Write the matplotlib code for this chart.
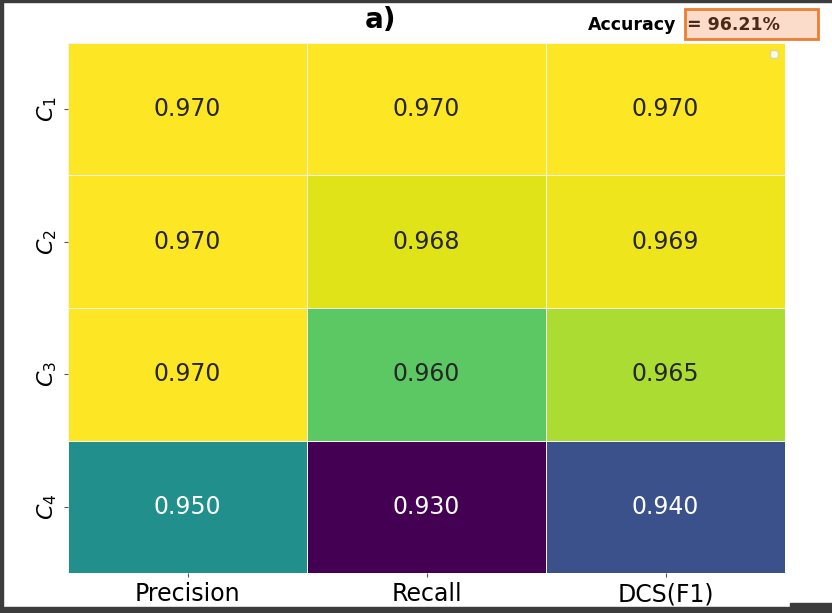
import numpy as np
import pandas as pd
import matplotlib
matplotlib.use('Agg')
import matplotlib.pyplot as plt
import seaborn as sns
from matplotlib.patches import Rectangle

# values
classes = ['$C_1$', '$C_2$', '$C_3$', '$C_4$']
metrics = ['Precision', 'Recall', 'DCS(F1)']
precision = [0.970, 0.970, 0.970, 0.950]
recall = [0.970, 0.968, 0.960, 0.930]
dcs_f1 = [0.970, 0.969, 0.965, 0.940]
accuracy = '96.21%'

df = pd.DataFrame({'Precision': precision, 'Recall': recall, 'DCS(F1)': dcs_f1},
                  index=classes)

fig = plt.figure(figsize=(8.32, 6.13), dpi=100)
ax = fig.add_axes([0.082, 0.065, 0.8615, 0.865])

sns.heatmap(df, ax=ax, cmap='viridis', vmin=0.93, vmax=0.97, annot=True, fmt='.3f',
            annot_kws={'fontsize': 17}, linewidths=0.5, linecolor='#f4f4ec', cbar=False)
ax.set_xticklabels(metrics, fontsize=17)
ax.set_yticklabels(classes, fontsize=16, rotation=90, va='center')
ax.tick_params(length=3, width=0.8, color='#555555')

# empty legend box left in the corner
ax.legend(handles=[], loc='upper right', borderpad=0.3)

# title sits left of the axes centre in the original
fig.text(0.457, 0.967, 'a)', fontsize=20, fontweight='bold', ha='center', va='center')

# accuracy box
fig.text(0.707, 0.960, 'Accuracy', fontsize=12.5, fontweight='bold', va='center', ha='left')
fig.add_artist(Rectangle((0.823, 0.936), 0.160, 0.050, transform=fig.transFigure,
                         facecolor='#fbdccb', edgecolor='#ed7d31', linewidth=2))
fig.text(0.826, 0.960, '= ' + accuracy, fontsize=12.5, fontweight='bold', color='#4a2a14',
         va='center', ha='left')

# screenshot frame
frame = '#3c3c3c'
fig.add_artist(Rectangle((0, 0.997), 1, 0.003, transform=fig.transFigure, color=frame))
fig.add_artist(Rectangle((0, 0), 0.004, 1, transform=fig.transFigure, color=frame))
fig.add_artist(Rectangle((0, 0), 0.95, 0.009, transform=fig.transFigure, color=frame))
fig.add_artist(Rectangle((0.95, 0), 0.05, 0.016, transform=fig.transFigure, color=frame))

fig.savefig('out.png', dpi=100)
